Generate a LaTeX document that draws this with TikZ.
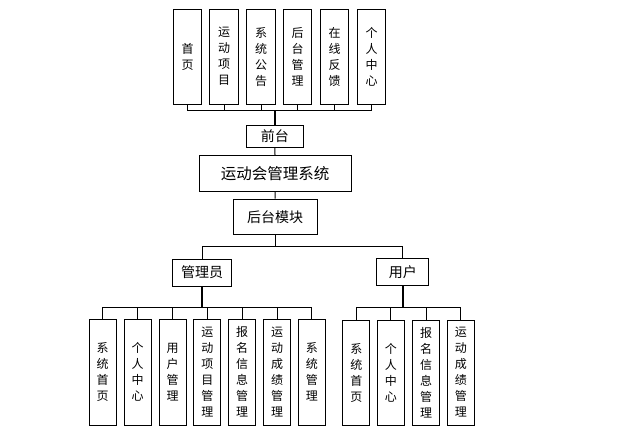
\documentclass[tikz,border=0pt]{standalone}
\usepackage{fontspec}
\setmainfont{Noto Sans CJK SC}
\begin{document}
\begin{tikzpicture}[x=1pt,y=-1pt,
  vbox/.style={draw=black,line width=1pt,fill=white,inner sep=0pt,align=center,
    font=\fontsize{12}{16}\selectfont},
  topbox/.style={vbox,minimum width=28.5pt,minimum height=94.7pt},
  botbox/.style={vbox,minimum width=27pt,minimum height=105.7pt},
  hbox/.style={draw=black,line width=1pt,fill=white,inner sep=0pt,
    font=\fontsize{14}{16}\selectfont},
  thin/.style={draw=black,line width=1pt},
  thick/.style={draw=black,line width=2pt}]
\useasboundingbox (0,0) rectangle (623,436);
% top row
\node[topbox] (t1) at (187.5,56.7) {首\\页};
\node[topbox] (t2) at (224.2,56.7) {运\\动\\项\\目};
\node[topbox] (t3) at (261.2,56.7) {系\\统\\公\\告};
\node[topbox] (t4) at (297.7,56.7) {后\\台\\管\\理};
\node[topbox] (t5) at (334.5,56.7) {在\\线\\反\\馈};
\node[topbox] (t6) at (371.5,56.7) {个\\人\\中\\心};
% middle
\node[hbox,minimum width=57pt,minimum height=22pt] (qt) at (274.8,136.3) {前台};
\node[hbox,minimum width=152pt,minimum height=35.7pt,font=\fontsize{15.5}{16}\selectfont] (sys) at (275,173.2) {运动会管理系统};
\node[hbox,minimum width=84.3pt,minimum height=35.3pt] (ht) at (275.2,216.7) {后台模块};
\node[hbox,minimum width=59pt,minimum height=27pt] (gly) at (202.2,272.5) {管理员};
\node[hbox,minimum width=52.3pt,minimum height=26.7pt] (yh) at (402.8,272.3) {用户};
% admin boxes
\node[botbox] (a1) at (102.7,372.2) {系\\统\\首\\页};
\node[botbox] (a2) at (137.7,372.2) {个\\人\\中\\心};
\node[botbox] (a3) at (172.5,372.2) {用\\户\\管\\理};
\node[botbox] (a4) at (207.3,372.2) {运\\动\\项\\目\\管\\理};
\node[botbox] (a5) at (242.2,372.2) {报\\名\\信\\息\\管\\理};
\node[botbox] (a6) at (277.0,372.2) {运\\动\\成\\绩\\管\\理};
\node[botbox] (a7) at (311.8,372.2) {系\\统\\管\\理};
% user boxes
\node[botbox,minimum height=105pt] (u1) at (356.3,372.5) {系\\统\\首\\页};
\node[botbox,minimum height=105pt] (u2) at (390.9,372.5) {个\\人\\中\\心};
\node[botbox,minimum height=105pt] (u3) at (426.0,372.5) {报\\名\\信\\息\\管\\理};
\node[botbox,minimum height=105pt] (u4) at (460.9,372.5) {运\\动\\成\\绩\\管\\理};
% buses
\coordinate (busT) at (274.8,110);
\coordinate (busM) at (275.2,246.5);
\coordinate (busA) at (202.2,307);
\coordinate (busU) at (402.8,307.5);
\foreach \i in {1,...,6} \draw[thin] (t\i.south) |- (busT);
\draw[thick] (busT) -- (qt.north);
\draw[thin] (qt.south) -- (sys.north);
\draw[thin] (sys.south) -- (ht.north);
\draw[thin] (ht.south) -- (busM);
\draw[thin] (gly.north) |- (busM);
\draw[thin] (yh.north) |- (busM);
\foreach \i in {1,...,7} \draw[thin] (a\i.north) |- (busA);
\draw[thick] (gly.south) -- (busA);
\foreach \i in {1,...,4} \draw[thin] (u\i.north) |- (busU);
\draw[thick] (yh.south) -- (busU);
\end{tikzpicture}
\end{document}
